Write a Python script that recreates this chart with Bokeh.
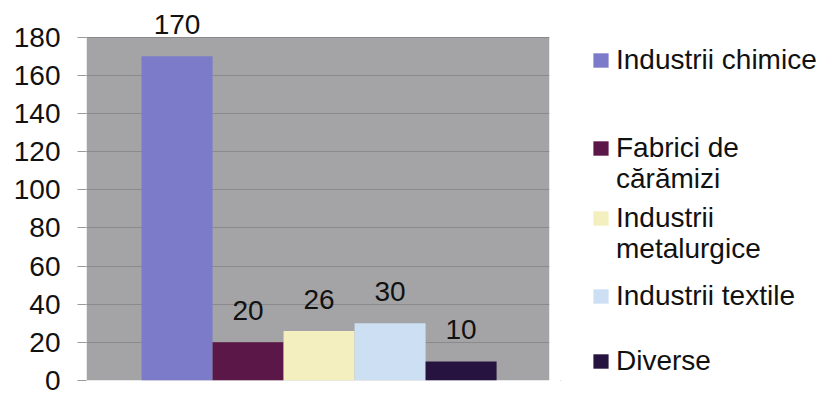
from bokeh.plotting import figure
from bokeh.layouts import row
from bokeh.models import (ColumnDataSource, Range1d, FixedTicker, LabelSet, Legend,
                          LegendItem, BoxAnnotation)
from bokeh.core.properties import value
from bokeh.embed import file_html
from bokeh.resources import INLINE

categories = ["Industrii chimice", "Fabrici de\ncărămizi", "Industrii\nmetalurgice",
              "Industrii textile", "Diverse"]
values = [170, 20, 26, 30, 10]
colors = ["#7b7bc9", "#5b1747", "#f4efbf", "#cde0f3", "#27133f"]
y_ticks = [0, 20, 40, 60, 80, 100, 120, 140, 160, 180]

FONT = "Liberation Sans"
TXT = "#111111"

src = ColumnDataSource(dict(
    x=list(range(len(categories))),
    top=values,
    color=colors,
    label=[str(v) for v in values],
))

# ---------------- chart ----------------
p = figure(width=560, height=395, output_backend="svg", toolbar_location=None,
           x_range=Range1d(-0.5 - 0.775, len(categories) - 0.5 + 0.745),
           y_range=Range1d(0, 195), x_axis_location=None,
           min_border_left=86, min_border_right=11, min_border_top=8, min_border_bottom=15)
p.background_fill_color = "white"
p.border_fill_color = "white"
p.outline_line_color = None

p.add_layout(BoxAnnotation(bottom=0, top=y_ticks[-1], fill_color="#a4a4a6", fill_alpha=1,
                           line_color=None, level="image"))

p.vbar(x="x", top="top", bottom=0, width=1.0, fill_color="color", line_color=None, source=src)

p.xgrid.visible = False
p.ygrid.grid_line_color = "#8a8a8c"
p.yaxis.ticker = FixedTicker(ticks=y_ticks)
p.yaxis.axis_line_color = None
p.yaxis.major_tick_out = 9
p.yaxis.major_tick_in = 0
p.yaxis.major_tick_line_color = "#9a9a9a"
p.yaxis.minor_tick_line_color = None
p.yaxis.major_label_standoff = 17
p.yaxis.major_label_text_font = FONT
p.yaxis.major_label_text_font_size = "28px"
p.yaxis.major_label_text_color = TXT

p.add_layout(LabelSet(x="x", y="top", text="label", source=src, y_offset=22,
                      text_align="center", text_baseline="alphabetic",
                      text_font=value(FONT), text_font_size=value("28px"),
                      text_color=value(TXT)))

# ---------------- legend panel ----------------
H = 395
q = figure(width=263, height=H, output_backend="svg", toolbar_location=None,
           x_range=Range1d(100, 101), y_range=Range1d(1000, 1001),
           x_axis_location=None, y_axis_location=None,
           min_border_left=0, min_border_right=0, min_border_top=0, min_border_bottom=0)
q.background_fill_color = "white"
q.border_fill_color = "white"
q.outline_line_color = None
q.xgrid.visible = False
q.ygrid.visible = False
# zero-width proxy bars: they only supply the legend swatches
lr = q.vbar(x="x", top="top", bottom=0, width=0, fill_color="color", line_color=None, source=src)

# the row aligns this frame with the chart frame (top 8, bottom 380)
FRAME_BOTTOM = 380
# centre (px from top) of each legend text line
line_centres = [[61], [149, 180], [219, 250], [297], [362]]
ITEM_H = 30
for i, name in enumerate(categories):
    for j, (txt, cy) in enumerate(zip(name.split("\n"), line_centres[i])):
        first = j == 0
        leg = Legend(items=[LegendItem(label=txt, renderers=[lr], index=i)],
                     location=(31, FRAME_BOTTOM - cy - ITEM_H / 2), padding=0, margin=0,
                     border_line_color=None, background_fill_alpha=0,
                     glyph_width=19 if first else 0, glyph_height=18,
                     label_standoff=6 if first else 25, label_height=ITEM_H,
                     label_text_font=FONT, label_text_font_size="28px",
                     label_text_color=TXT)
        q.add_layout(leg)

open("out.html", "w").write(file_html(row(p, q), INLINE))
